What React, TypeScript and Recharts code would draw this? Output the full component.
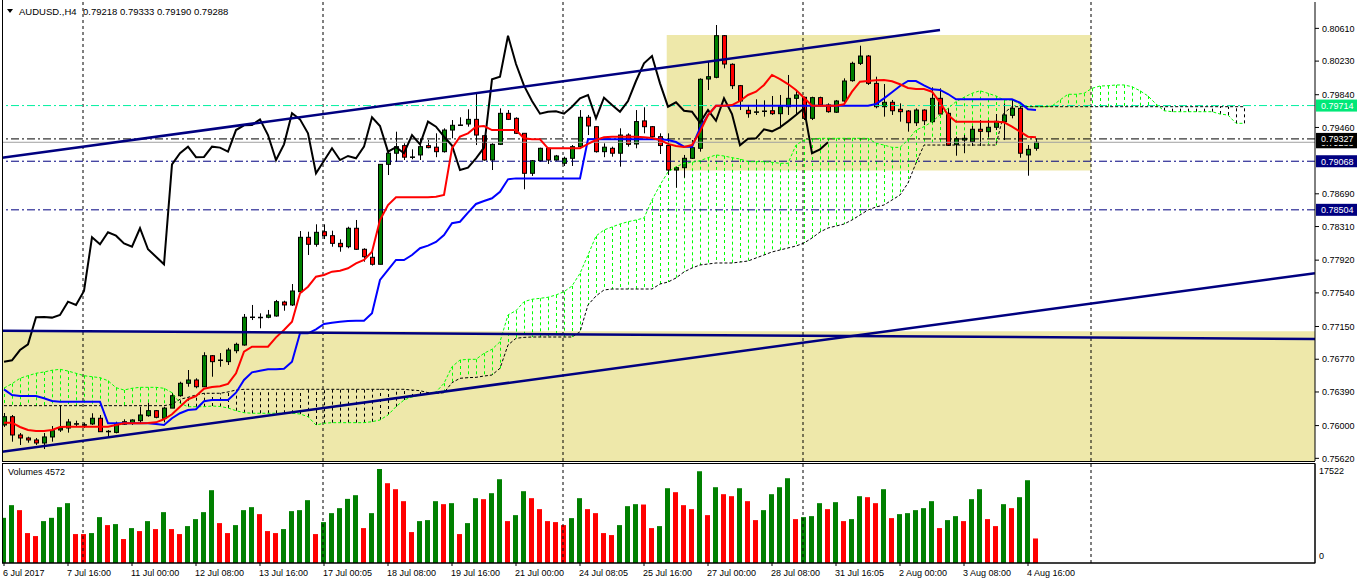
import React from 'react';
import { ComposedChart, Bar, Line, XAxis, YAxis, ReferenceLine, ReferenceArea } from 'recharts';

// AUDUSD H4, 6 Jul - 4 Aug 2017, Ichimoku + volumes (MT4 look)

const timeLabels = [
  '6 Jul 2017', '7 Jul 16:00', '11 Jul 00:00', '12 Jul 08:00', '13 Jul 16:00', '17 Jul 00:05',
  '18 Jul 08:00', '19 Jul 16:00', '21 Jul 00:00', '24 Jul 08:05', '25 Jul 16:00', '27 Jul 00:00',
  '28 Jul 08:00', '31 Jul 16:05', '2 Aug 00:00', '3 Aug 08:00', '4 Aug 16:00',
];
const timeLabelBars = [0, 8, 16, 24, 32, 40, 48, 56, 64, 72, 80, 88, 96, 104, 112, 120, 128];
const weekBreaks = [9.875, 39.875, 69.875, 99.875, 135.875];
const priceTicks = [0.8061, 0.8023, 0.7984, 0.7946, 0.7869, 0.7831, 0.7792, 0.7754, 0.7715, 0.7677, 0.7639, 0.76, 0.7562];

const opens = [
  0.76007, 0.76103, 0.75891, 0.75856, 0.75833, 0.75798, 0.75868, 0.75949, 0.75972, 0.76019,
  0.76007, 0.76019, 0.76085, 0.75929, 0.75921, 0.76016, 0.76027, 0.76057, 0.76115, 0.76173,
  0.76085, 0.76203, 0.76347, 0.76491, 0.76529, 0.76451, 0.76811, 0.76761, 0.76742, 0.76869,
  0.76935, 0.77257, 0.77257, 0.77257, 0.77272, 0.77434, 0.774, 0.77554, 0.78185, 0.78104,
  0.7825, 0.78204, 0.78115, 0.78076, 0.7829, 0.78046, 0.77953, 0.77872, 0.79032, 0.79161,
  0.79249, 0.79115, 0.79141, 0.79249, 0.79231, 0.79179, 0.7943, 0.79485, 0.795, 0.79554,
  0.79364, 0.79082, 0.79264, 0.79624, 0.79566, 0.79392, 0.78928, 0.79074, 0.79218, 0.79082,
  0.79044, 0.79102, 0.79237, 0.79578, 0.79469, 0.79179, 0.79218, 0.79161, 0.79372, 0.79268,
  0.79536, 0.79469, 0.79353, 0.7925, 0.78966, 0.78993, 0.79102, 0.79218, 0.80022, 0.80042,
  0.80525, 0.80193, 0.79945, 0.79659, 0.79637, 0.79651, 0.79654, 0.7962, 0.79701, 0.79798,
  0.7981, 0.79566, 0.79806, 0.79721, 0.79637, 0.79767, 0.80003, 0.80204, 0.80289, 0.79972,
  0.79701, 0.79752, 0.79671, 0.79651, 0.79515, 0.79662, 0.79527, 0.79798, 0.79624, 0.79264,
  0.79314, 0.79295, 0.79439, 0.79411, 0.79462, 0.79527, 0.79601, 0.79682, 0.79141, 0.79218,
];
const highs = [
  0.76146, 0.76123, 0.75914, 0.75871, 0.75856, 0.75914, 0.75995, 0.76231, 0.76077, 0.76057,
  0.76035, 0.76143, 0.76123, 0.75949, 0.76045, 0.76073, 0.76073, 0.76219, 0.76266, 0.76181,
  0.76219, 0.76375, 0.76509, 0.76645, 0.76549, 0.76851, 0.76819, 0.76842, 0.76902, 0.76962,
  0.77295, 0.774, 0.77303, 0.77342, 0.77458, 0.77449, 0.77643, 0.78258, 0.7825, 0.78336,
  0.78336, 0.78262, 0.78162, 0.78308, 0.78386, 0.78058, 0.78038, 0.79036, 0.79179, 0.79411,
  0.79276, 0.79206, 0.79334, 0.79314, 0.79392, 0.7945, 0.79546, 0.79578, 0.79671, 0.79863,
  0.79372, 0.79276, 0.79682, 0.79662, 0.79578, 0.79392, 0.79082, 0.79225, 0.79225, 0.79141,
  0.79121, 0.79256, 0.79662, 0.79605, 0.79477, 0.79276, 0.79237, 0.7945, 0.79392, 0.79662,
  0.79694, 0.79477, 0.79392, 0.79392, 0.79005, 0.79141, 0.79314, 0.8003, 0.80223, 0.80649,
  0.80533, 0.80204, 0.79953, 0.79721, 0.79787, 0.79775, 0.79825, 0.79837, 0.80069, 0.79895,
  0.79817, 0.79817, 0.79817, 0.7974, 0.79779, 0.8003, 0.80223, 0.80409, 0.80301, 0.80049,
  0.79964, 0.79779, 0.7974, 0.79662, 0.79682, 0.79671, 0.79926, 0.79914, 0.79682, 0.79353,
  0.79372, 0.79477, 0.79546, 0.79546, 0.79616, 0.7974, 0.79779, 0.79701, 0.79256, 0.79333,
];
const lows = [
  0.75984, 0.75813, 0.75775, 0.75801, 0.75775, 0.75728, 0.75813, 0.75926, 0.75918, 0.75987,
  0.75972, 0.76007, 0.75929, 0.75871, 0.7591, 0.76007, 0.76007, 0.76027, 0.76103, 0.76085,
  0.76038, 0.76203, 0.76335, 0.76451, 0.76433, 0.76451, 0.76567, 0.76683, 0.76703, 0.76839,
  0.76927, 0.77225, 0.77129, 0.77245, 0.77264, 0.77333, 0.77388, 0.77542, 0.7798, 0.78076,
  0.78165, 0.78076, 0.78018, 0.78058, 0.78038, 0.77902, 0.77857, 0.77872, 0.78908, 0.79062,
  0.79082, 0.79091, 0.79082, 0.79218, 0.79115, 0.79168, 0.79334, 0.79477, 0.79469, 0.79256,
  0.79074, 0.78966, 0.79256, 0.79546, 0.79384, 0.78742, 0.78897, 0.79062, 0.79036, 0.79074,
  0.79013, 0.79013, 0.79231, 0.79372, 0.79168, 0.79115, 0.79121, 0.79005, 0.79237, 0.79218,
  0.79392, 0.79314, 0.79152, 0.78908, 0.78761, 0.78877, 0.79094, 0.79179, 0.79895, 0.80031,
  0.80146, 0.79906, 0.79662, 0.79573, 0.79605, 0.79585, 0.79605, 0.7945, 0.79605, 0.79605,
  0.79546, 0.79546, 0.79701, 0.79631, 0.79628, 0.79752, 0.79991, 0.80185, 0.79953, 0.79682,
  0.79585, 0.79605, 0.79527, 0.79411, 0.79477, 0.79488, 0.79515, 0.79605, 0.79245, 0.79132,
  0.79161, 0.79245, 0.79245, 0.79346, 0.7943, 0.79314, 0.79566, 0.79109, 0.789, 0.7919,
];
const closes = [
  0.76103, 0.75891, 0.75856, 0.75833, 0.75798, 0.75868, 0.75941, 0.75972, 0.76042, 0.76022,
  0.7601, 0.76085, 0.75929, 0.75934, 0.76016, 0.76045, 0.76065, 0.76123, 0.76173, 0.76096,
  0.76203, 0.76347, 0.76491, 0.76529, 0.76451, 0.76811, 0.76742, 0.76758, 0.76877, 0.76943,
  0.77257, 0.7726, 0.77253, 0.77283, 0.77438, 0.774, 0.77562, 0.78185, 0.78104, 0.78243,
  0.78204, 0.78115, 0.78076, 0.7829, 0.78046, 0.7796, 0.77872, 0.79032, 0.79161, 0.79237,
  0.79115, 0.79118, 0.79237, 0.79226, 0.79179, 0.7943, 0.79485, 0.79489, 0.79554, 0.79372,
  0.79082, 0.79264, 0.79624, 0.79554, 0.79392, 0.78928, 0.79074, 0.79218, 0.79082, 0.79129,
  0.79102, 0.79237, 0.79578, 0.79477, 0.79179, 0.79231, 0.79161, 0.79372, 0.79264, 0.79528,
  0.79469, 0.79353, 0.7925, 0.78966, 0.78993, 0.79102, 0.79225, 0.80019, 0.80049, 0.80525,
  0.80196, 0.79945, 0.79767, 0.7962, 0.79641, 0.79647, 0.7962, 0.79701, 0.79798, 0.79837,
  0.79566, 0.79806, 0.79721, 0.79643, 0.79767, 0.79999, 0.80204, 0.80289, 0.79972, 0.79701,
  0.79752, 0.79654, 0.79643, 0.79515, 0.79662, 0.79538, 0.79798, 0.79616, 0.79253, 0.79329,
  0.79334, 0.79439, 0.79415, 0.79462, 0.79531, 0.79605, 0.79682, 0.79161, 0.79206, 0.79288,
];
const volumes = [
  8420, 10782, 9853, 5577, 5019, 7808, 8421, 10410, 11154, 5391,
  5391, 5577, 8551, 7064, 7250, 4462, 6506, 5949, 7808, 6321,
  9481, 6321, 5391, 6878, 8180, 9481, 13571, 7436, 5577, 7064,
  9853, 10410, 9109, 5949, 5577, 6321, 9667, 9853, 11712, 5391,
  7622, 9295, 10225, 11954, 12641, 6506, 9295, 17522, 14872, 13757,
  11526, 5763, 7808, 7994, 11526, 10968, 11154, 5391, 7436, 12084,
  11898, 13013, 15616, 7808, 8923, 13385, 12084, 10039, 7808, 7622,
  7064, 8366, 12084, 10039, 9295, 5577, 5205, 7064, 10596, 10968,
  10900, 6506, 6878, 13942, 13199, 10782, 10039, 17103, 8923, 14128,
  12827, 12455, 13942, 11526, 7994, 9853, 12827, 14128, 15802, 8180,
  8551, 8737, 11154, 10039, 11340, 7808, 8180, 12455, 12269, 11154,
  13757, 8366, 9109, 9295, 9853, 10225, 11526, 6506, 7994, 8737,
  7808, 11898, 13757, 8180, 6878, 10968, 10225, 12269, 15430, 4572,
];
const tenkan = [
  0.76034, 0.76034, 0.75984, 0.75949, 0.75937, 0.75937, 0.75949, 0.75984, 0.75987, 0.75987,
  0.75987, 0.75987, 0.75987, 0.75987, 0.76007, 0.76027, 0.76027, 0.76027, 0.7603, 0.76038,
  0.76073, 0.76131, 0.76219, 0.76305, 0.76343, 0.76428, 0.76448, 0.76456, 0.76483, 0.76607,
  0.76857, 0.76915, 0.76915, 0.76915, 0.77024, 0.77109, 0.77205, 0.77535, 0.77612, 0.77728,
  0.77748, 0.77786, 0.77798, 0.77825, 0.77883, 0.77922, 0.78018, 0.78386, 0.7856, 0.78649,
  0.78649, 0.78649, 0.78649, 0.78649, 0.78656, 0.78676, 0.79218, 0.79353, 0.79392, 0.79469,
  0.79477, 0.7943, 0.7943, 0.7943, 0.7943, 0.79334, 0.79323, 0.79323, 0.79218, 0.79218,
  0.79218, 0.79218, 0.79218, 0.79269, 0.79314, 0.79346, 0.79353, 0.79353, 0.79353, 0.79353,
  0.79346, 0.79338, 0.79314, 0.79269, 0.79245, 0.79233, 0.79256, 0.79411, 0.79604, 0.79712,
  0.79712, 0.7972, 0.79767, 0.79837, 0.79875, 0.79953, 0.80069, 0.80022, 0.79964, 0.79895,
  0.79805, 0.79712, 0.79712, 0.79712, 0.79712, 0.79729, 0.79875, 0.79991, 0.79999, 0.80007,
  0.80011, 0.79996, 0.79961, 0.79918, 0.79906, 0.79906, 0.79875, 0.79752, 0.79604, 0.79527,
  0.79527, 0.79527, 0.79527, 0.79527, 0.79527, 0.7952, 0.79469, 0.79411, 0.79353, 0.79346,
];
const kijun = [
  0.76421, 0.76355, 0.76343, 0.76343, 0.76343, 0.76317, 0.76285, 0.76277, 0.76277, 0.76277,
  0.76277, 0.76277, 0.76277, 0.76027, 0.76027, 0.76027, 0.76027, 0.76027, 0.76027, 0.76019,
  0.76007, 0.76085, 0.76143, 0.76181, 0.76189, 0.76282, 0.76297, 0.76297, 0.76297, 0.76382,
  0.76529, 0.76618, 0.76637, 0.76653, 0.76653, 0.7666, 0.76741, 0.77071, 0.77071, 0.77117,
  0.77179, 0.77194, 0.77205, 0.77214, 0.77217, 0.77217, 0.77303, 0.7769, 0.77806, 0.77922,
  0.77922, 0.7798, 0.78058, 0.78088, 0.78131, 0.78212, 0.78348, 0.78366, 0.78471, 0.78572,
  0.78606, 0.78638, 0.78714, 0.78858, 0.78869, 0.78869, 0.78869, 0.78869, 0.78869, 0.78869,
  0.78869, 0.78869, 0.78869, 0.79323, 0.79323, 0.79323, 0.79323, 0.79323, 0.79323, 0.79323,
  0.79323, 0.79323, 0.79323, 0.79314, 0.79291, 0.79237, 0.79237, 0.7945, 0.79604, 0.79712,
  0.79712, 0.79712, 0.79712, 0.79712, 0.79712, 0.79712, 0.79712, 0.79712, 0.79712, 0.79712,
  0.79712, 0.79712, 0.79712, 0.79712, 0.79712, 0.79712, 0.79712, 0.79712, 0.79712, 0.79732,
  0.79798, 0.79868, 0.79941, 0.79999, 0.79999, 0.79949, 0.79903, 0.79895, 0.79848, 0.79787,
  0.79787, 0.79787, 0.79787, 0.79787, 0.79787, 0.79787, 0.79787, 0.79747, 0.79671, 0.79662,
];
const spanA = [
  0.76436, 0.76486, 0.76549, 0.76579, 0.76607, 0.76622, 0.76642, 0.76653, 0.76633, 0.76607,
  0.76579, 0.76567, 0.76556, 0.76521, 0.7644, 0.76413, 0.76433, 0.76444, 0.76444, 0.76444,
  0.76433, 0.76382, 0.76259, 0.76219, 0.76219, 0.76219, 0.76227, 0.76222, 0.76204, 0.76173,
  0.7615, 0.76143, 0.76143, 0.76143, 0.76143, 0.76143, 0.76143, 0.76135, 0.76103, 0.76007,
  0.76027, 0.76034, 0.76034, 0.76034, 0.76034, 0.76034, 0.76045, 0.76065, 0.76123, 0.76219,
  0.76297, 0.76332, 0.76355, 0.76372, 0.7639, 0.76491, 0.76683, 0.76761, 0.76769, 0.76769,
  0.76839, 0.76885, 0.76973, 0.77284, 0.77334, 0.77438, 0.77466, 0.77477, 0.77489, 0.77516,
  0.77554, 0.7762, 0.77767, 0.7798, 0.782, 0.7827, 0.78305, 0.78339, 0.78366, 0.78386,
  0.78409, 0.78618, 0.78792, 0.78943, 0.79004, 0.79044, 0.79056, 0.79074, 0.79109, 0.79141,
  0.79129, 0.79109, 0.79094, 0.79063, 0.79063, 0.79063, 0.79056, 0.79044, 0.79044, 0.79256,
  0.79314, 0.79326, 0.79334, 0.79334, 0.79334, 0.79334, 0.79334, 0.79334, 0.79334, 0.79276,
  0.79256, 0.79229, 0.79229, 0.79314, 0.7943, 0.79469, 0.79527, 0.79604, 0.79682, 0.79759,
  0.7981, 0.79856, 0.79886, 0.79856, 0.79825, 0.79779, 0.79779, 0.79732, 0.79701, 0.79701,
  0.79701, 0.79709, 0.79779, 0.79845, 0.79845, 0.79856, 0.79914, 0.79941, 0.79944, 0.79953,
  0.79953, 0.79933, 0.79886, 0.79825, 0.79732, 0.79654, 0.79643, 0.79643, 0.79643, 0.79643,
  0.79643, 0.79643, 0.79616, 0.79604, 0.79508, 0.79508,
];
const spanB = [
  0.76231, 0.76231, 0.76231, 0.76231, 0.76231, 0.76231, 0.76231, 0.76231, 0.76231, 0.76231,
  0.76231, 0.76231, 0.76231, 0.76231, 0.76231, 0.76231, 0.76231, 0.76231, 0.76231, 0.76231,
  0.76231, 0.76247, 0.76305, 0.76328, 0.76355, 0.76375, 0.76375, 0.76375, 0.7639, 0.76413,
  0.76421, 0.76421, 0.76421, 0.76421, 0.76421, 0.76421, 0.76421, 0.76421, 0.76421, 0.76421,
  0.76421, 0.76421, 0.76421, 0.76421, 0.76421, 0.76421, 0.76421, 0.76421, 0.76421, 0.76421,
  0.76421, 0.76413, 0.76405, 0.76382, 0.76375, 0.76382, 0.76498, 0.76549, 0.76556, 0.7656,
  0.76575, 0.76587, 0.76665, 0.76935, 0.77013, 0.77024, 0.77028, 0.77028, 0.77028, 0.77028,
  0.77028, 0.77028, 0.77089, 0.774, 0.77504, 0.77574, 0.77585, 0.77585, 0.77585, 0.77585,
  0.77585, 0.77585, 0.77643, 0.77666, 0.77713, 0.77783, 0.77829, 0.77864, 0.77875, 0.77887,
  0.77887, 0.77887, 0.77898, 0.7791, 0.77945, 0.7798, 0.78015, 0.78038, 0.78061, 0.78084,
  0.78119, 0.78177, 0.78247, 0.78293, 0.78316, 0.78339, 0.78386, 0.78444, 0.78502, 0.78537,
  0.7856, 0.78618, 0.78676, 0.78815, 0.79047, 0.79256, 0.79256, 0.79256, 0.79256, 0.79256,
  0.79256, 0.79256, 0.79256, 0.79256, 0.79256, 0.79628, 0.79701, 0.79701, 0.79701, 0.79701,
  0.79701, 0.79701, 0.79701, 0.79701, 0.79701, 0.79701, 0.79701, 0.79701, 0.79701, 0.79701,
  0.79701, 0.79701, 0.79701, 0.79701, 0.79701, 0.79701, 0.79701, 0.79701, 0.79701, 0.79701,
  0.79701, 0.79701, 0.79701, 0.79701, 0.79701, 0.79701,
];

// drawn objects (bar index, price)
const upperChannel = [{ bar: -0.25, price: 0.79109 }, { bar: 117, price: 0.80591 }];
const lowerChannel = [{ bar: -0.25, price: 0.75697 }, { bar: 163.875, price: 0.77769 }];
const flatLine = [{ bar: -0.25, price: 0.77101 }, { bar: 163.875, price: 0.77005 }];
const upperBox = [82.84, 135.9, 0.78959, 0.80533];
const lowerBoxTop = 0.77094;
const levelGreen = 0.79714;
const levelBlack = 0.79327;
const bidPrice = 0.79288;
const levelNavy1 = 0.79068;
const levelNavy2 = 0.78504;

const X_DOMAIN = [-0.25, 163.875];
const PRICE_DOMAIN = [0.75589, 0.80916];
const VOL_DOMAIN = [0, 18454];

const rows = spanA.map((a, i) => ({
  bar: i,
  open: opens[i],
  high: highs[i],
  low: lows[i],
  close: closes[i],
  tenkan: tenkan[i],
  kijun: kijun[i],
  chikou: closes[i + 26],
  spanA: a,
  spanB: spanB[i],
}));

const volRows = volumes.map((v, i) => ({ bar: i, vol: v, up: i === 0 || v > volumes[i - 1] }));

const rangeOf = (r: any) => {
  const vals = [r.low, r.high, r.spanA, r.spanB].filter((v) => v != null);
  return [Math.min(...vals), Math.max(...vals)];
};

const CandleShape = (props: any) => {
  const { x, y, width, height, payload } = props;
  if (x == null || payload == null) return null;
  const [lo, hi] = rangeOf(payload);
  if (hi === lo) return null;
  const top = height < 0 ? y + height : y;
  const h = Math.abs(height);
  const py = (p: number) => top + ((hi - p) / (hi - lo)) * h;
  const cx = Math.round(x + width / 2) + 0.5;
  const parts = [];
  if (payload.spanA != null && payload.spanB != null) {
    parts.push(
      <line key="k" x1={cx} x2={cx} y1={py(payload.spanA)} y2={py(payload.spanB)}
        stroke={payload.spanA >= payload.spanB ? '#00ff00' : '#000'} strokeWidth={1} strokeDasharray="3 3" />
    );
  }
  if (payload.open != null) {
    const up = payload.close >= payload.open;
    const bt = py(Math.max(payload.open, payload.close));
    const bb = py(Math.min(payload.open, payload.close));
    parts.push(<line key="w" x1={cx} x2={cx} y1={py(payload.high)} y2={py(payload.low)} stroke="#000" strokeWidth={1} />);
    parts.push(
      <rect key="b" x={cx - 2} y={bt} width={4} height={Math.max(bb - bt, 0.5)}
        fill={up ? '#008000' : '#ff0000'} stroke="#000" strokeWidth={1} />
    );
  }
  return <g>{parts}</g>;
};

const VolShape = (props: any) => {
  const { x, y, width, height, payload } = props;
  if (x == null) return null;
  return <rect x={x} y={y} width={width} height={Math.max(height, 0)} fill={payload.up ? '#008000' : '#ff0000'} />;
};

const tag = (text: string, bg: string) => (props: any) => {
  const vb = props.viewBox || {};
  const x = vb.x + vb.width + 1;
  const y = vb.y;
  return (
    <g>
      <rect x={x} y={y - 6} width={41} height={12} fill={bg} />
      <text x={x + 5} y={y + 3.5} fill="#fff" fontSize={9}>{text}</text>
    </g>
  );
};

const TimeTick = (props: any) => {
  const { x, y, payload } = props;
  const idx = timeLabelBars.indexOf(payload.value);
  return (
    <text x={x - 1} y={y} dy="0.71em" textAnchor="start" fontSize={9} fill="#000">
      {idx >= 0 ? timeLabels[idx] : ''}
    </text>
  );
};

const VolTick = (props: any) => {
  const { x, y, payload } = props;
  return (
    <text x={x} y={payload.value === 0 ? y - 7 : y + 2} dy="0.355em" textAnchor="start" fontSize={9} fill="#000">
      {payload.value}
    </text>
  );
};

const navy = '#000080';

export default function App() {
  return (
    <div style={{ position: 'absolute', left: 0, top: 0, width: 1358, height: 584, background: '#fff',
      fontFamily: "'Liberation Sans', Arial, sans-serif" }}>
      <div style={{ position: 'absolute', left: 0, top: 0 }}>
        <ComposedChart width={1358} height={463} data={rows} margin={{ top: 2, right: 0, left: 2, bottom: 2 }}>
          <XAxis type="number" dataKey="bar" domain={X_DOMAIN} hide allowDataOverflow />
          <YAxis orientation="right" width={43} domain={PRICE_DOMAIN} allowDataOverflow ticks={priceTicks}
            interval={0} tickSize={4} tickMargin={3} tickFormatter={(v: number) => v.toFixed(5)}
            tick={{ fontSize: 9, fill: '#000' }} stroke="#000" />
          <ReferenceArea x1={X_DOMAIN[0]} x2={X_DOMAIN[1]} y1={PRICE_DOMAIN[0]} y2={lowerBoxTop}
            fill="#eee8aa" fillOpacity={1} stroke="none" ifOverflow="hidden" />
          <ReferenceArea x1={upperBox[0]} x2={upperBox[1]} y1={upperBox[2]} y2={upperBox[3]}
            fill="#eee8aa" fillOpacity={1} stroke="none" />
          {weekBreaks.map((b) => (
            <ReferenceLine key={b} x={b} stroke="#000" strokeDasharray="3 3" />
          ))}
          <ReferenceLine y={levelGreen} stroke="#00f0a0" strokeDasharray="8 3 2 3" label={tag('0.79714', '#00e878')} />
          <ReferenceLine y={bidPrice} stroke="#a0a0a0" label={tag('0.79288', '#000')} />
          <ReferenceLine y={levelBlack} stroke="#000" strokeDasharray="8 3 2 3" label={tag('0.79327', '#000')} />
          <ReferenceLine y={levelNavy1} stroke={navy} strokeDasharray="8 3 2 3" label={tag('0.79068', navy)} />
          <ReferenceLine y={levelNavy2} stroke={navy} strokeDasharray="8 3 2 3" label={tag('0.78504', navy)} />
          <Bar dataKey={rangeOf} barSize={5} shape={CandleShape} isAnimationActive={false} />
          <Line dataKey="spanA" stroke="#00ff00" strokeWidth={1} strokeDasharray="3 2" dot={false} type="linear" isAnimationActive={false} />
          <Line dataKey="spanB" stroke="#000" strokeWidth={1} strokeDasharray="3 2" dot={false} type="linear" isAnimationActive={false} />
          <Line dataKey="chikou" stroke="#000" strokeWidth={2} dot={false} type="linear" isAnimationActive={false} />
          <Line dataKey="kijun" stroke="#0000ff" strokeWidth={2} dot={false} type="linear" isAnimationActive={false} />
          <Line dataKey="tenkan" stroke="#ff0000" strokeWidth={2} dot={false} type="linear" isAnimationActive={false} />
          <Line data={flatLine} dataKey="price" stroke={navy} strokeWidth={2.5} dot={false} type="linear" isAnimationActive={false} />
          <Line data={upperChannel} dataKey="price" stroke={navy} strokeWidth={2.5} dot={false} type="linear" isAnimationActive={false} />
          <Line data={lowerChannel} dataKey="price" stroke={navy} strokeWidth={2.5} dot={false} type="linear" isAnimationActive={false} />
        </ComposedChart>
      </div>
      <div style={{ position: 'absolute', left: 0, top: 463 }}>
        <ComposedChart width={1358} height={121} data={volRows} margin={{ top: 1, right: 0, left: 2, bottom: 0 }}>
          <XAxis type="number" dataKey="bar" domain={X_DOMAIN} allowDataOverflow ticks={timeLabelBars}
            interval={0} height={21} tickSize={3} tickMargin={4} tick={<TimeTick />} stroke="#000" />
          <YAxis orientation="right" width={43} domain={VOL_DOMAIN} allowDataOverflow ticks={[17522, 0]}
            interval={0} tickSize={0} tickMargin={4} tick={<VolTick />} stroke="#000" />
          {weekBreaks.map((b) => (
            <ReferenceLine key={b} x={b} stroke="#000" strokeDasharray="3 3" />
          ))}
          <Bar dataKey="vol" barSize={5} shape={VolShape} isAnimationActive={false} />
        </ComposedChart>
      </div>
      <svg width={1358} height={584} style={{ position: 'absolute', left: 0, top: 0, pointerEvents: 'none' }}>
        <line x1={2.5} y1={0} x2={2.5} y2={461} stroke="#000" />
        <line x1={2} y1={461.5} x2={1315} y2={461.5} stroke="#000" />
        <rect x={2.5} y={463.5} width={1312.5} height={99.5} fill="none" stroke="#000" />
        <polygon points="7,9 13,9 10,13" fill="#000" />
        <text x={19} y={14.5} fontSize={9.5} fill="#000">AUDUSD.,H4</text>
        <text x={83} y={14.5} fontSize={9.5} fill="#000">0.79218 0.79333 0.79190 0.79288</text>
        <text x={8} y={474.5} fontSize={9} fill="#000">Volumes 4572</text>
      </svg>
    </div>
  );
}
